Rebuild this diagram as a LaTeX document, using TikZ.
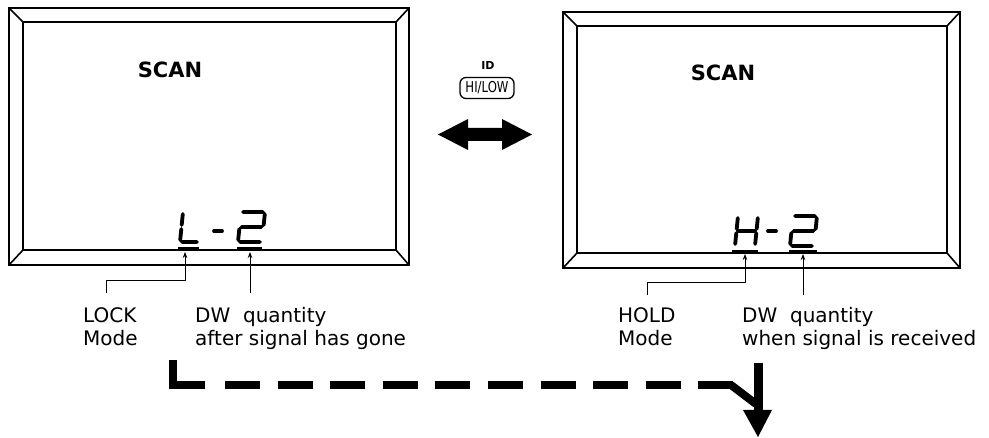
\documentclass[tikz,border=0pt]{standalone}
\usepackage{fontspec}
\usepackage{graphicx}
\setmainfont{DejaVu Sans}
\usetikzlibrary{arrows.meta}
\tikzset{
  bezel/.style={line width=1.6pt, line join=miter},
  seg/.style={line width=3.8pt, line cap=round},
  uline/.style={line width=2pt},
  lbl/.style={font=\fontsize{20}{23}\selectfont, align=left, anchor=north west, inner sep=0pt},
  scan/.style={font=\bfseries\fontsize{21}{24}\selectfont, inner sep=0pt},
  pointer/.style={line width=0.8pt, -{Stealth[length=6pt,width=4.5pt]}},
  flow/.style={line width=8pt},
}
% bevelled LCD frame: outer corners (x1,y1) (x2,y2)
\newcommand\lcdframe[4]{%
  \draw[bezel] (#1,#2) rectangle (#3,#4);
  \draw[bezel] (#1+14,#2+14) rectangle (#3-13,#4-15);
  \draw[bezel] (#1,#2) -- (#1+14,#2+14) (#3,#2) -- (#3-13,#2+14)
    (#1,#4) -- (#1+14,#4-15) (#3,#4) -- (#3-13,#4-15);}
% seven segment glyphs, origin = top left
\newcommand\glyphL[2]{\begin{scope}[shift={(#1,#2)}, xslant=0.1]
  \draw[seg] (0,2) -- (0,13) (0,17) -- (0,28) (2,30) -- (17,30);
  \end{scope}}
\newcommand\glyphH[2]{\begin{scope}[shift={(#1,#2)}, xslant=0.1]
  \draw[seg] (0,2) -- (0,13) (0,17) -- (0,28) (20,2) -- (20,13) (20,17) -- (20,28) (2,15) -- (18,15);
  \end{scope}}
\newcommand\glyphTwo[2]{\begin{scope}[shift={(#1,#2)}, xslant=0.1]
  \draw[seg] (2,0) -- (22,0) (24,2) -- (24,13) (2,15) -- (22,15) (0,17) -- (0,28) (2,30) -- (22,30);
  \end{scope}}
\begin{document}
\begin{tikzpicture}[x=1pt, y=-1pt, line join=round]
	\useasboundingbox (0,0) rectangle (989,438);
	% left display: LOCK
	\lcdframe{9}{8}{409}{265}
	\node[scan] (scanL) at (170,70) {SCAN};
	\glyphL{183}{212}
	\draw[seg] (214,231) -- (222,231);
	\glyphTwo{241}{212}
	\draw[uline] (178,248) -- (199,248) (237,248) -- (262,248);
	\coordinate (lockpt) at (185,252);
	\coordinate (dwLpt) at (250,252);
	\node[lbl] (lock) at (83,307) {LOCK\\Mode};
	\node[lbl] (dwL) at (195,307) {DW\ \ quantity\\after signal has gone};
	\coordinate (lockend) at (106,293);
	\coordinate (dwLend) at (250,293);
	\draw[pointer] (lockend) -- ++(0,-13) -| (lockpt);
	\draw[pointer] (dwLend) -- (dwLpt);
	% right display: HOLD
	\lcdframe{563}{12}{960}{268}
	\node[scan] (scanR) at (723,73) {SCAN};
	\glyphH{738}{216}
	\draw[seg] (768,231) -- (776,231);
	\glyphTwo{793}{216}
	\draw[uline] (732,251) -- (758,251) (789,251) -- (817,251);
	\coordinate (holdpt) at (745,254);
	\coordinate (dwRpt) at (803,254);
	\node[lbl] (hold) at (618,307) {HOLD\\Mode};
	\node[lbl] (dwR) at (742,307) {DW\ \ quantity\\when signal is received};
	\coordinate (holdend) at (647,295);
	\coordinate (dwRend) at (803,295);
	\draw[pointer] (holdend) -- ++(0,-13) -| (holdpt);
	\draw[pointer] (dwRend) -- (dwRpt);
	% key and toggle arrow
	\node[font=\bfseries\fontsize{11}{11}\selectfont, inner sep=0pt] (id) at (488,65) {ID};
	\node[draw, line width=1.3pt, rounded corners=6pt, minimum width=54pt, minimum height=21pt,
	  inner sep=0pt, font=\fontsize{15}{15}\selectfont] (hilow) at (487,88) {\scalebox{0.78}[1]{HI/LOW}};
	\fill (438,134.5) -- (468,119) -- (468,128) -- (502,128) -- (502,119) -- (532,134.5)
	  -- (502,150) -- (502,141) -- (468,141) -- (468,150) -- cycle;
	% thick dashed return arrow
	\draw[flow, line join=miter] (173,360) -- (173,385) -- (205,385);
	\draw[flow, dash pattern=on 35pt off 17.6pt] (225,385) -- (733,385);
	\draw[flow] (731,385) -- (756,404);
	\draw[line width=9pt] (758,363) -- (758,412);
	\fill (743,410) -- (772,410) -- (758,437) -- cycle;
\end{tikzpicture}
\end{document}
